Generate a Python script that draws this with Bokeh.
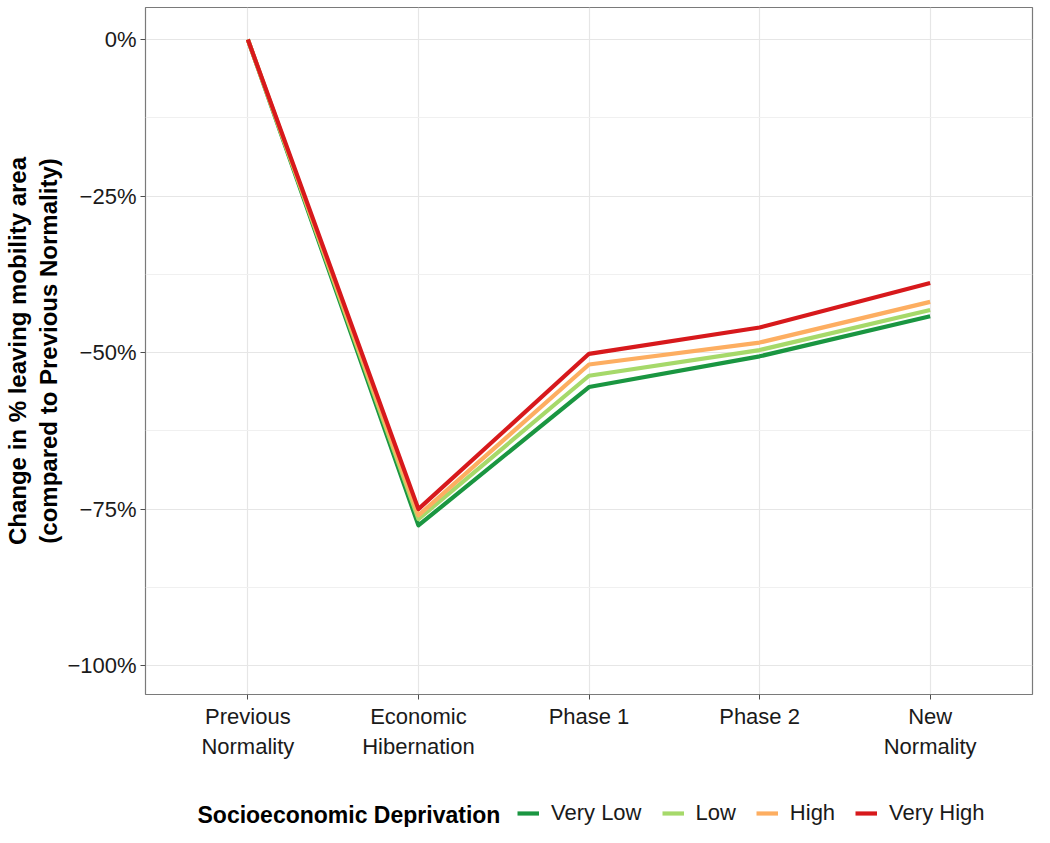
from bokeh.plotting import figure
from bokeh.layouts import column
from bokeh.models import Legend, LegendItem, FixedTicker, Range1d, Label
from bokeh.embed import file_html
from bokeh.resources import INLINE

# ---- data ----
phases = ["Previous\nNormality", "Economic\nHibernation", "Phase 1", "Phase 2", "New\nNormality"]
very_low = [0.0, -77.6, -55.5, -50.6, -44.2]
low = [0.0, -76.6, -53.7, -49.6, -43.2]
high = [0.0, -76.0, -51.9, -48.4, -41.9]
very_high = [0.0, -75.0, -50.2, -46.0, -38.9]
series_names = ["Very Low", "Low", "High", "Very High"]
series_colors = ["#1a9641", "#a6d96a", "#fdae61", "#d7191c"]
y_ticks = [0, -25, -50, -75, -100]
y_tick_labels = ["0%", "\u221225%", "\u221250%", "\u221275%", "\u2212100%"]
legend_title = "Socioeconomic Deprivation"

FONT = "Liberation Sans"
LEFT = 145
xs = list(range(1, len(phases) + 1))
all_series = [very_low, low, high, very_high]

p = figure(width=1034, height=790, output_backend="svg", toolbar_location=None,
           x_range=Range1d(0.4, 5.6), y_range=Range1d(-104.6, 5.1),
           min_border_left=LEFT, min_border_right=2, min_border_top=7, min_border_bottom=96)

p.outline_line_color = "#7a7a7a"
p.outline_line_width = 1.2
p.background_fill_color = "white"

for name, vals, col in zip(series_names, all_series, series_colors):
    p.line(xs, vals, line_color=col, line_width=4.2, line_join="round")

# axes
p.xaxis.ticker = FixedTicker(ticks=xs)
p.xaxis.major_label_overrides = {x: lab for x, lab in zip(xs, phases)}
p.yaxis.ticker = FixedTicker(ticks=y_ticks, minor_ticks=[-12.5, -37.5, -62.5, -87.5])
p.yaxis.major_label_overrides = {t: lab for t, lab in zip(y_ticks, y_tick_labels)}

for ax in (p.xaxis[0], p.yaxis[0]):
    ax.axis_line_color = None
    ax.major_tick_line_color = "#4d4d4d"
    ax.major_tick_in = 0
    ax.major_tick_out = 5
    ax.minor_tick_line_color = None
    ax.major_label_text_font = FONT
    ax.major_label_text_font_size = "22px"
    ax.major_label_text_color = "#1a1a1a"
    ax.major_label_standoff = 4

p.yaxis.axis_label = "Change in % leaving mobility area\n(compared to Previous Normality)"
p.yaxis.axis_label_text_font = FONT
p.yaxis.axis_label_text_font_style = "bold"
p.yaxis.axis_label_text_font_size = "24px"
p.yaxis.axis_label_text_line_height = 1.15
p.yaxis.axis_label_text_color = "black"
p.yaxis.axis_label_standoff = 2

# grid
p.xgrid.grid_line_color = "#e6e6e6"
p.xgrid.grid_line_width = 1.2
p.ygrid.grid_line_color = "#e6e6e6"
p.ygrid.grid_line_width = 1.2
p.ygrid.minor_grid_line_color = "#f0f0f0"
p.ygrid.minor_grid_line_width = 1.0

# legend strip (separate figure so the title can sit left of the keys)
p2 = figure(width=1034, height=37, output_backend="svg", toolbar_location=None,
            x_range=Range1d(10, 11), y_range=Range1d(10, 11),
            x_axis_type=None, y_axis_type=None,
            min_border_left=LEFT, min_border_right=2, min_border_top=0, min_border_bottom=0)
p2.outline_line_color = None
p2.xgrid.visible = False
p2.ygrid.visible = False

keys = []
for name, vals, col in zip(series_names, all_series, series_colors):
    # same series, drawn outside this strip's visible range: only the legend key shows
    r = p2.line(xs, vals, line_color=col, line_width=4.2)
    keys.append(LegendItem(label=name, renderers=[r]))

legend = Legend(items=keys, orientation="horizontal", location=(517 - LEFT, 1),
                label_text_font=FONT, label_text_font_size="22px", label_text_color="#1a1a1a",
                glyph_width=22, glyph_height=24, label_height=24, label_standoff=12, spacing=20,
                padding=0, margin=0, border_line_color=None, background_fill_alpha=0)
p2.add_layout(legend, "center")

p2.add_layout(Label(x=197 - LEFT, y=13, x_units="screen", y_units="screen", text=legend_title,
                    text_font=FONT, text_font_style="bold", text_font_size="23px",
                    text_color="black", text_baseline="middle"))

open("out.html", "w").write(file_html(column(p, p2, spacing=0), INLINE))
